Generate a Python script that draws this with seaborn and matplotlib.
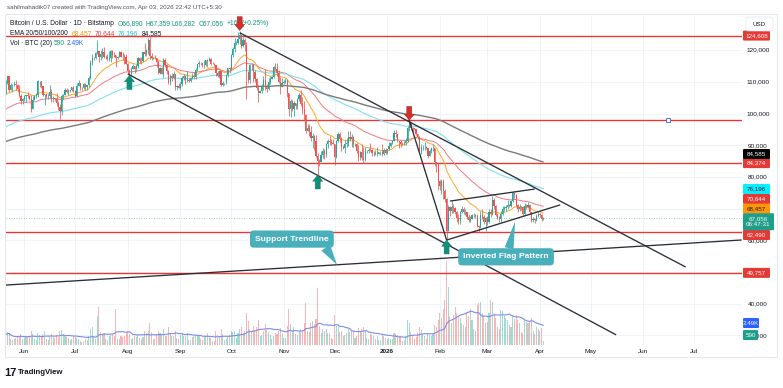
import numpy as np
import pandas as pd
import matplotlib
matplotlib.use("Agg")
import matplotlib.pyplot as plt
import seaborn as sns
from matplotlib.patches import Rectangle, FancyBboxPatch

# ---------------------------------------------------------------- data
first_date = "2025-05-21"
first_open_k = 106.8

close_k = [
    109.7, 111.7, 107.3, 108.9, 109.0, 109.4, 108.9, 107.8, 105.6, 103.9, 104.6,
    105.7, 105.9, 105.4, 104.7, 101.5, 104.3, 105.6, 105.8, 110.3, 110.3, 108.7, 105.9, 106.1, 105.5, 105.6,
    106.8, 104.6, 104.9, 104.7, 103.3, 102.1, 100.9, 105.6, 106.0, 107.3, 106.9, 107.1, 107.3, 108.4, 107.1,
    105.7, 108.8, 109.6, 108.0, 108.2, 109.2, 108.3, 108.9, 111.3, 115.9, 117.5, 117.4, 119.1, 119.8, 117.7,
    118.7, 119.3, 117.9, 117.9, 117.3, 117.4, 119.9, 118.6, 118.4, 117.6, 117.9, 119.4, 118.0, 117.9, 117.8, 115.8,
    113.3, 112.5, 114.2, 115.0, 114.1, 115.0, 117.5, 116.7, 116.5, 119.3, 118.7, 120.1, 123.3, 118.3, 117.4,
    117.5, 117.4, 116.2, 112.9, 114.3, 112.5, 116.9, 115.4, 113.5, 110.1, 111.8, 111.3, 112.6, 108.4, 108.8, 108.2,
    109.2, 111.2, 111.7, 110.7, 110.7, 110.2, 111.1, 112.0, 111.5, 113.9, 115.5, 116.1, 115.9, 115.3, 115.4,
    116.8, 116.5, 117.1, 115.7, 115.7, 115.3, 112.7, 112.0, 113.3, 109.0, 109.6, 109.7, 112.1, 114.4, 114.0,
    118.6, 120.5, 122.2, 122.4, 123.5, 124.7, 121.4, 123.3, 121.7, 113.2, 110.6, 115.2, 115.3, 113.1, 110.8,
    108.2, 106.4, 107.2, 108.7, 110.6, 108.5, 107.6, 110.1, 111.0, 111.6, 114.6, 114.1, 112.9, 110.0, 108.3, 109.6,
    110.1, 110.6, 106.5, 101.5, 103.9, 101.3, 103.3, 102.3, 104.7, 106.0, 103.0, 101.6, 99.7, 94.5, 95.6,
    94.2, 92.2, 92.9, 91.5, 86.6, 85.1, 84.7, 86.8, 88.3, 87.4, 90.5, 91.3, 90.9, 90.8, 90.4,
    86.3, 91.3, 93.5, 92.1, 89.4, 89.3, 90.4, 90.6, 92.7, 92.0, 92.5, 90.3, 90.3, 88.2, 86.4,
    87.8, 86.1, 85.5, 88.1, 88.3, 88.6, 88.5, 87.6, 87.6, 87.3, 87.3, 87.8, 87.8, 87.1, 88.4, 87.5,
    88.7, 89.9, 90.6, 91.5, 93.9, 93.7, 91.3, 91.0, 90.5, 90.4, 90.8, 91.2, 95.4, 97.0, 95.6,
    95.5, 95.1, 93.6, 92.6, 88.3, 89.4, 89.5, 89.5, 89.2, 86.6, 88.2, 89.1, 89.2, 84.6, 84.1, 78.6,
    77.0, 78.7, 75.7, 73.0, 63.0, 70.5, 69.3, 70.5, 70.1, 68.8, 67.0, 66.2, 68.8, 69.8,
    68.8, 68.8, 67.5, 66.4, 66.9, 67.9, 68.0, 67.6, 64.6, 64.1, 68.0, 67.5, 65.9, 67.0,
    65.7, 68.8, 68.3, 72.6, 70.9, 68.1, 67.2, 66.8, 68.4, 69.9, 70.2, 70.5, 71.3, 70.9, 72.4,
    74.8, 74.2, 71.1, 69.9, 70.6, 70.4, 68.2, 70.9, 70.5, 71.3, 68.8, 66.3, 66.7, 66.3, 67.8, 68.2,
    68.1, 66.89, 67.056,
]
high_k = [
    110.7, 111.9, 111.8, 109.5, 109.3, 110.4, 110.7, 109.3, 108.9, 106.3, 104.9,
    105.9, 105.9, 106.8, 105.9, 105.9, 105.4, 105.9, 106.5, 110.5, 110.4, 110.4, 108.8, 106.2, 106.2, 106.2,
    108.9, 107.7, 105.5, 105.0, 106.5, 104.0, 103.0, 106.1, 106.3, 108.0, 108.0, 107.7, 107.5, 108.5, 108.8,
    107.5, 109.8, 110.5, 109.7, 108.4, 109.7, 109.7, 109.0, 111.9, 116.8, 118.8, 118.0, 119.5, 123.2, 119.9,
    120.0, 120.8, 120.9, 118.5, 118.9, 119.7, 120.2, 120.1, 119.5, 118.4, 118.3, 119.8, 119.8, 119.3, 118.8, 118.9,
    116.1, 114.0, 114.8, 115.7, 115.1, 115.7, 117.7, 117.7, 117.9, 119.3, 122.3, 120.3, 123.7, 124.4, 119.2,
    118.0, 118.6, 117.6, 116.8, 114.6, 114.8, 117.4, 117.4, 115.6, 113.6, 112.4, 112.7, 113.5, 112.6, 108.9, 109.5,
    109.9, 111.7, 112.6, 112.2, 113.4, 111.3, 111.6, 112.9, 113.2, 114.3, 115.5, 116.7, 116.4, 116.1, 116.8,
    117.0, 117.3, 117.9, 117.5, 116.3, 116.0, 115.4, 113.3, 113.9, 113.5, 110.3, 109.8, 112.4, 114.5, 114.8,
    118.8, 121.0, 123.9, 122.9, 125.7, 126.2, 124.9, 124.2, 123.7, 122.6, 113.4, 115.8, 116.0, 115.6, 113.6,
    111.3, 109.0, 107.5, 109.4, 111.7, 114.0, 109.2, 111.2, 112.0, 111.9, 115.0, 116.1, 116.1, 113.6, 111.6, 111.2,
    110.5, 111.2, 110.8, 106.6, 104.5, 104.2, 104.1, 103.4, 105.0, 106.6, 107.5, 105.3, 104.0, 99.9, 96.8,
    96.6, 96.0, 93.8, 93.2, 93.1, 87.5, 85.6, 88.1, 89.0, 88.7, 90.7, 91.9, 93.0, 91.9, 92.0,
    90.4, 91.8, 94.1, 94.1, 92.7, 90.0, 91.7, 92.3, 94.6, 94.4, 93.5, 92.8, 90.7, 90.6, 90.0,
    88.2, 90.4, 89.5, 89.4, 88.6, 89.1, 90.6, 88.9, 88.1, 88.4, 89.5, 88.0, 88.2, 90.4, 89.2, 89.0,
    88.9, 90.9, 91.0, 91.8, 94.7, 94.8, 93.5, 91.5, 91.8, 90.9, 91.2, 92.4, 96.2, 97.9, 97.2,
    95.9, 95.6, 95.2, 93.7, 92.8, 90.4, 90.2, 91.0, 89.8, 89.3, 88.8, 89.5, 90.5, 89.3, 84.8, 84.2,
    79.2, 79.3, 79.3, 76.3, 73.3, 71.2, 71.0, 72.3, 71.5, 70.4, 69.3, 68.4, 69.4, 70.9,
    70.6, 70.0, 68.9, 68.4, 67.8, 68.3, 68.7, 68.4, 68.2, 64.9, 69.3, 70.0, 67.9, 67.5,
    67.8, 69.9, 69.9, 74.0, 73.5, 71.2, 68.6, 67.8, 69.2, 70.8, 71.0, 71.2, 72.8, 71.6, 72.8,
    75.6, 75.4, 74.5, 71.6, 71.5, 71.0, 70.9, 71.8, 71.4, 72.0, 71.4, 69.0, 67.4, 67.2, 68.4, 69.0,
    68.6, 68.3, 67.359,
]
low_k = [
    106.1, 109.3, 106.8, 107.3, 106.9, 108.6, 107.5, 106.7, 105.3, 103.1, 103.1,
    103.9, 103.8, 104.9, 104.3, 100.4, 101.3, 104.3, 105.0, 105.3, 108.4, 108.1, 105.6, 102.7, 104.8, 104.5,
    105.0, 103.5, 103.7, 103.9, 102.5, 101.0, 98.2, 99.6, 104.7, 105.8, 106.6, 106.0, 106.8, 107.0, 106.8,
    105.2, 105.1, 108.6, 107.3, 107.4, 107.8, 107.5, 107.5, 108.3, 111.0, 115.3, 116.9, 117.3, 118.9, 116.3,
    116.8, 117.6, 117.5, 117.3, 116.5, 116.6, 116.2, 117.4, 117.7, 114.7, 117.2, 117.8, 117.7, 117.0, 115.8, 115.5,
    112.7, 112.0, 112.0, 114.1, 112.7, 113.4, 114.3, 115.9, 115.8, 116.4, 118.1, 118.1, 118.9, 117.2, 116.9,
    117.2, 117.2, 114.7, 112.4, 112.4, 112.4, 111.6, 114.6, 112.6, 109.3, 109.0, 110.4, 110.9, 107.5, 107.5, 108.1,
    107.3, 108.8, 110.5, 109.3, 110.1, 110.0, 110.0, 110.9, 110.8, 110.9, 113.4, 114.7, 115.2, 114.8, 114.4,
    114.9, 114.7, 116.5, 115.2, 115.6, 115.1, 112.0, 111.6, 111.1, 108.7, 108.6, 109.1, 109.4, 111.5, 112.7,
    113.9, 118.0, 119.3, 121.7, 122.1, 122.1, 120.6, 121.1, 119.6, 104.6, 109.6, 109.7, 113.7, 110.0, 110.1,
    107.5, 103.5, 106.4, 106.4, 107.5, 107.5, 106.7, 107.5, 109.3, 110.9, 111.2, 113.6, 111.9, 109.8, 106.3, 108.3,
    109.2, 109.7, 105.3, 99.1, 98.9, 100.8, 99.3, 101.4, 101.5, 104.1, 102.5, 100.0, 98.0, 94.0, 94.5,
    93.0, 91.3, 89.2, 88.6, 86.2, 80.6, 83.5, 84.7, 86.0, 85.6, 86.3, 89.2, 90.2, 90.2, 90.3,
    83.8, 86.1, 90.9, 91.0, 88.1, 88.9, 87.7, 89.6, 89.7, 91.2, 89.4, 89.5, 89.8, 87.7, 85.1,
    85.3, 85.3, 84.4, 85.2, 87.7, 87.6, 88.3, 86.6, 86.6, 86.9, 86.5, 87.2, 87.0, 86.7, 86.8, 87.1,
    87.1, 88.4, 89.6, 90.3, 91.2, 92.6, 90.9, 89.3, 89.6, 90.1, 90.0, 90.1, 91.0, 94.6, 94.9,
    94.3, 94.8, 93.3, 91.9, 88.0, 87.3, 88.5, 88.6, 88.7, 86.1, 86.5, 87.5, 88.3, 83.4, 81.5, 75.8,
    75.9, 74.6, 72.9, 72.0, 60.1, 62.9, 67.8, 68.7, 68.5, 68.2, 65.9, 65.1, 65.3, 68.5,
    68.2, 68.0, 66.7, 65.9, 65.7, 66.7, 67.4, 67.2, 64.3, 62.5, 63.9, 66.9, 65.3, 63.0,
    65.0, 65.4, 67.4, 67.9, 70.0, 67.8, 66.8, 65.8, 65.9, 68.0, 69.3, 69.4, 70.0, 70.4, 70.5,
    72.2, 73.3, 70.7, 68.9, 69.4, 69.7, 67.7, 67.9, 69.8, 70.1, 68.4, 65.9, 65.9, 65.5, 66.0, 67.3,
    67.5, 66.1, 66.282,
]
# daily volume, hundreds of BTC
volume_h = [
    14, 18, 16, 8, 7, 9, 10, 11, 13, 15, 8,
    10, 11, 12, 13, 19, 15, 8, 7, 17, 14, 12, 15, 19, 8, 7, 13, 15, 12, 10, 14,
    11, 19, 21, 15, 12, 11, 10, 7, 8, 12,
    11, 10, 9, 6, 4, 5, 8, 7, 12, 22, 25, 12, 9, 40, 52, 18, 15, 17, 8, 7,
    12, 14, 15, 13, 50, 9, 8, 12, 11, 13, 17,
    20, 15, 9, 10, 12, 11, 14, 10, 8, 11, 20, 17, 19, 30, 18, 8, 8, 15, 19, 17,
    14, 22, 12, 13, 25, 16, 13, 12, 20, 10, 9,
    14, 16, 12, 13, 17, 7, 7, 11, 12, 14, 13, 14, 8, 7, 12, 12, 16, 13, 10, 6,
    6, 19, 14, 12, 22, 15, 7, 8, 13, 14,
    20, 18, 19, 10, 16, 22, 25, 17, 20, 44, 33, 22, 18, 26, 21, 25, 35, 13, 14, 20,
    29, 21, 18, 14, 9, 12, 16, 15, 20, 24, 17,
    10, 10, 26, 50, 29, 20, 25, 15, 14, 20, 22, 21, 30, 58, 20, 18, 30, 33, 29, 36,
    79, 27, 17, 22, 20, 22, 16, 17, 10, 9,
    41, 27, 25, 18, 20, 12, 14, 17, 22, 18, 19, 20, 10, 12, 24, 20, 22, 25, 20, 10,
    8, 15, 14, 12, 8, 12, 7, 7, 14, 12, 10,
    8, 10, 9, 9, 17, 15, 14, 13, 12, 6, 7, 12, 35, 30, 18, 14, 9, 11, 16, 25,
    21, 15, 13, 9, 16, 14, 13, 15, 28, 25, 35,
    45, 38, 50, 63, 117, 80, 40, 30, 42, 53, 45, 40, 38, 30, 28, 25, 45, 40, 50, 35,
    22, 20, 55, 58, 60, 45, 40, 30,
    32, 45, 63, 60, 45, 38, 25, 22, 48, 47, 40, 38, 35, 28, 25, 40, 36, 42, 35, 30,
    18, 16, 35, 32, 30, 33, 38, 20, 15, 25, 22,
    20, 24, 5.9,
]

ema_spans = [20, 50, 100, 200]
ema_seed_k = [105.5, 101.0, 95.5, 91.0]
ema_last_labels = ["68,457", "70,644", "76,196", "84,585"]
ema_last_values = [68457, 70644, 76196, 84585]

level_lines = [124608, 98000, 84374, 62490, 49757]
level_tags = [124608, 84374, 62490, 49757]
last_price = 67056
countdown = "06:47:31"
vol_ma_value, vol_ma_text = 2490, "2.49K"
vol_last_value, vol_last_text = 590, "590"

# price scale labels left visible by the tags on the right
price_ticks = [30000, 40000, 60000, 80000, 90000, 100000, 110000, 120000]
grid_prices = [30000, 40000, 50000, 60000, 70000, 80000, 90000, 100000, 110000, 120000]
month_labels = ["Jun", "Jul", "Aug", "Sep", "Oct", "Nov", "Dec", "2026",
                "Feb", "Mar", "Apr", "May", "Jun", "Jul"]

# drawn trendlines: (date, price) anchors
trend_upper = [("2025-10-06", 125500), ("2026-06-26", 51600)]
trend_lower = [("2025-08-01", 112500), ("2026-05-16", 30200)]
trend_support = [("2025-05-21", 45900), ("2026-07-29", 60130)]
trend_drop = [("2026-01-14", 97900), ("2026-02-05", 60100)]
flag_low = [("2026-02-05", 60100), ("2026-04-13", 71200)]
flag_high = [("2026-02-07", 72400), ("2026-03-29", 76200)]

down_arrow_dates = ["2025-10-06", "2026-01-14"]
up_arrow_dates = ["2025-08-02", "2025-11-21", "2026-02-05"]

header_text = "sahilmahadik07 created with TradingView.com, Apr 03, 2026 22:42 UTC+5:30"
legend_symbol = "Bitcoin / U.S. Dollar \u00b7 1D \u00b7 Bitstamp"
legend_ohlc = ["O66,890", "H67,359", "L66,282", "C67,056", "+166", "(+0.25%)"]

# ---------------------------------------------------------------- style / layout
W, H = 783, 388
ORIGIN = pd.Timestamp("2025-06-01")
UP, DOWN = "#26A69A", "#EF5350"
TEAL_TAG = "#1E9E89"
LEVEL_RED = "#E53935"
LINE_BLACK = "#2A2E39"
CALLOUT = "#49AFBA"
TXT = "#131722"

sns.set_theme(style="white")
plt.rcParams["font.family"] = ["Liberation Sans", "DejaVu Sans"]

n = len(close_k)
dates = pd.date_range(first_date, periods=n, freq="D")
day = np.asarray((dates - ORIGIN).days, dtype=float)
close = np.array(close_k) * 1000
open_ = np.concatenate([[first_open_k], close_k[:-1]]) * 1000
high = np.maximum.reduce([np.array(high_k) * 1000, open_, close])
low = np.minimum.reduce([np.array(low_k) * 1000, open_, close])
vol = np.array(volume_h, dtype=float)
up = close >= open_

def dnum(s):
    return (pd.Timestamp(s) - ORIGIN).days

fig = plt.figure(figsize=(W / 100, H / 100), dpi=100)
fig.patch.set_facecolor("white")
ax = fig.add_axes([6 / W, (H - 345) / H, 736 / W, 330 / H])
ax2 = ax.twinx()
ax.set_zorder(2)
ax2.set_zorder(1)
ax.patch.set_visible(False)
ax2.patch.set_visible(False)

XL = (-10.8, 423.2)
YL = (27000, 131100)
ax.set_xlim(*XL)
ax2.set_xlim(*XL)
ax.set_ylim(*YL)
ax2.set_ylim(0, 457)
for a in (ax, ax2):
    for s in a.spines.values():
        s.set_visible(False)
    a.set_xticks([])
    a.set_yticks([])
    a.grid(False)

# grid (drawn on the volume axes so it sits below everything)
month_starts = pd.date_range("2025-06-01", "2026-07-01", freq="MS")
month_days = np.asarray((month_starts - ORIGIN).days, dtype=float)
for md in month_days:
    ax2.axvline(md, color="#EEF1F6", lw=0.6, zorder=0)
for p in grid_prices:
    ax2.axhline((p - YL[0]) / (YL[1] - YL[0]) * 457, color="#EEF1F6", lw=0.6, zorder=0)

# volume
vcol = np.where(up, UP, DOWN)
ax2.bar(day, vol, width=0.62, color=vcol, alpha=0.42, linewidth=0, zorder=1)
vma = pd.Series(vol).rolling(20, min_periods=1).mean().to_numpy()
sns.lineplot(x=day, y=vma, ax=ax2, color="#7B8EEA", lw=0.8, legend=False, zorder=2)

# level lines
for lv in level_lines:
    ax.axhline(lv, color=LEVEL_RED, lw=1.0, zorder=2)
ax.axhline(last_price, color=TEAL_TAG, lw=0.6, ls=(0, (1, 2)), alpha=0.6, zorder=2)
ax.plot([379.7], [98000], marker="s", ms=3.2, mfc="white", mec="#2962FF", mew=0.6, zorder=8)

# EMAs
ema_colors = ["#FFA726", "#F5777E", "#7FE2EC", "#7A7A7A"]
ema_lw = [0.7, 0.7, 0.8, 1.0]
for span, seed, colr, lw in zip(ema_spans, ema_seed_k, ema_colors, ema_lw):
    s = pd.Series(np.concatenate([[seed * 1000], close]))
    e = s.ewm(span=span, adjust=False).mean().to_numpy()[1:]
    sns.lineplot(x=day, y=e, ax=ax, color=colr, lw=lw, legend=False, zorder=3)

# candles
ccol = np.where(up, UP, DOWN)
ax.vlines(day, low, high, colors=ccol, lw=0.55, zorder=4)
body_lo = np.minimum(open_, close)
body_h = np.maximum(np.abs(close - open_), 80)
ax.bar(day, body_h, bottom=body_lo, width=0.7, color=ccol, linewidth=0, zorder=4)

# trendlines
for tl in (trend_upper, trend_lower, trend_support, trend_drop, flag_low, flag_high):
    xs = [dnum(tl[0][0]), dnum(tl[1][0])]
    ys = [tl[0][1], tl[1][1]]
    ax.plot(xs, ys, color=LINE_BLACK, lw=0.95, zorder=5, solid_capstyle="butt")

def line_at(tl, d):
    x0, x1 = dnum(tl[0][0]), dnum(tl[1][0])
    return tl[0][1] + (tl[1][1] - tl[0][1]) * (d - x0) / (x1 - x0)

# arrows
date_index = {d: i for i, d in enumerate(dates.strftime("%Y-%m-%d"))}
for d in down_arrow_dates:
    i = date_index[d]
    ax.annotate("", xy=(day[i], high[i]), xytext=(0, 10), textcoords="offset points",
                arrowprops=dict(arrowstyle="simple,head_length=0.55,head_width=0.9,tail_width=0.45",
                                fc="#D32F2F", ec="#A61B1B", lw=0.3, mutation_scale=8,
                                shrinkA=0, shrinkB=0), zorder=9)
for d in up_arrow_dates:
    i = date_index[d]
    ax.annotate("", xy=(day[i], low[i]), xytext=(0, -10), textcoords="offset points",
                arrowprops=dict(arrowstyle="simple,head_length=0.55,head_width=0.9,tail_width=0.45",
                                fc="#0E9078", ec="#0A6F5D", lw=0.3, mutation_scale=8,
                                shrinkA=0, shrinkB=0), zorder=9)

# callouts
sup_day = 184.4
ax.annotate("Support Trendline", xy=(sup_day, line_at(trend_support, sup_day)),
            xytext=(-32.5, 18.5), textcoords="offset points", ha="center", va="center",
            fontsize=6.1, fontweight="bold", color="white", zorder=10,
            bbox=dict(boxstyle="round,pad=0.6,rounding_size=0.45", fc=CALLOUT, ec="none"),
            arrowprops=dict(arrowstyle="wedge,tail_width=0.75,shrink_factor=0.5", fc=CALLOUT,
                            ec="none", relpos=(0.9, 0.2), mutation_scale=10,
                            shrinkA=0, shrinkB=0))
flag_day = 289.4
ax.annotate("Inverted Flag Pattern", xy=(flag_day, line_at(flag_low, flag_day) - 800),
            xytext=(-6.5, -25.5), textcoords="offset points", ha="center", va="center",
            fontsize=6.1, fontweight="bold", color="white", zorder=10,
            bbox=dict(boxstyle="round,pad=0.6,rounding_size=0.45", fc=CALLOUT, ec="none"),
            arrowprops=dict(arrowstyle="wedge,tail_width=0.65,shrink_factor=0.5", fc=CALLOUT,
                            ec="none", relpos=(0.52, 0.85), mutation_scale=10,
                            shrinkA=0, shrinkB=0))

# legend texts (drawn inside ax so arrows can sit over them)
def ftext(x, y, s, **kw):
    kw.setdefault("fontsize", 4.8)
    kw.setdefault("color", TXT)
    ax.text(x / W, 1 - y / H, s, transform=fig.transFigure, va="center", ha="left",
            zorder=6, **kw)

fig.text(7 / W, 1 - 7.5 / H, header_text, fontsize=4.5, color="#50535E", va="center")
ftext(10, 23.5, legend_symbol)
ohlc_x = [118, 146, 172, 199, 227, 242]
for xx, s in zip(ohlc_x, legend_ohlc):
    ftext(xx, 23.5, s, color="#13977F")
ftext(10, 33.5, "EMA 20/50/100/200")
ema_txt_col = ["#F59300", "#E53945", "#14C8D6", TXT]
for xx, s, c in zip([72, 95, 118, 142], ema_last_labels, ema_txt_col):
    ftext(xx, 33.5, s, color=c)
ftext(10, 43.5, "Vol \u00b7 BTC (20)")
ftext(54, 43.5, vol_last_text, color="#13977F")
ftext(67, 43.5, vol_ma_text, color="#2962FF")

# price axis
def ypix(axis, v):
    return axis.transData.transform((0, v))[1]

for p in price_ticks:
    fig.text(758 / W, ypix(ax, p) / H, f"{p:,}", ha="center", va="center",
             fontsize=4.6, color=TXT, zorder=3)

def tag(text, yb, fc, tc="white", w=27, h=10, x0=743):
    r = FancyBboxPatch((x0 / W, (yb - h / 2) / H), w / W, h / H, transform=fig.transFigure,
                       boxstyle="round,pad=0,rounding_size=0.002", fc=fc, ec="none", zorder=5)
    fig.add_artist(r)
    fig.text((x0 + w / 2) / W, yb / H, text, ha="center", va="center", fontsize=4.5,
             color=tc, zorder=6, linespacing=1.25)

shift = {124608: 0, 84374: 0, 62490: 2.5, 49757: 0}
for lv in level_tags:
    tag(f"{lv:,}", ypix(ax, lv) - shift[lv], LEVEL_RED)
tag(ema_last_labels[3], ypix(ax, ema_last_values[3]) + 8.5, "#000000")
tag(ema_last_labels[2], ypix(ax, ema_last_values[2]), "#00F0FF", tc=TXT)
tag(ema_last_labels[1], ypix(ax, ema_last_values[1]) + 7.7, LEVEL_RED)
tag(ema_last_labels[0], ypix(ax, ema_last_values[0]) + 4.9, "#FF9800", tc=TXT)
tag(f"{last_price:,}\n{countdown}", ypix(ax, last_price) - 3.7, TEAL_TAG, w=31, h=17)
tag(vol_ma_text, ypix(ax2, vol_ma_value / 100) + 4, "#2962FF", w=16)
tag(vol_last_text, ypix(ax2, vol_last_value / 100) + 5.7, TEAL_TAG, w=15)

usd = FancyBboxPatch((746 / W, (H - 31) / H), 27 / W, 14 / H, transform=fig.transFigure,
                     boxstyle="round,pad=0,rounding_size=0.004", fc="white", ec="#E0E3EB",
                     lw=0.5, zorder=5)
fig.add_artist(usd)
fig.text(759.5 / W, 1 - 24 / H, "USD", ha="center", va="center", fontsize=4.5, color=TXT, zorder=6)

# time axis
for md, lab in zip(month_days, month_labels):
    xp = ax.transData.transform((md, 0))[0]
    fig.text(xp / W, 1 - 353 / H, lab, ha="center", va="baseline", fontsize=4.6, color=TXT,
             fontweight="bold" if lab == "2026" else "normal")

# frame
fig.add_artist(Rectangle((5 / W, (H - 357) / H), 772 / W, 343 / H, transform=fig.transFigure,
                         fill=False, ec="#E0E3EB", lw=0.6, zorder=1))

# TradingView logo
fig.text(4 / W, 1 - 372.5 / H, "17", fontsize=8, fontweight="bold", color=TXT, va="center")
fig.text(18 / W, 1 - 372.5 / H, "TradingView", fontsize=5.6, fontweight="bold", color=TXT,
         va="center")

fig.savefig("out.png", dpi=100, facecolor="white")
